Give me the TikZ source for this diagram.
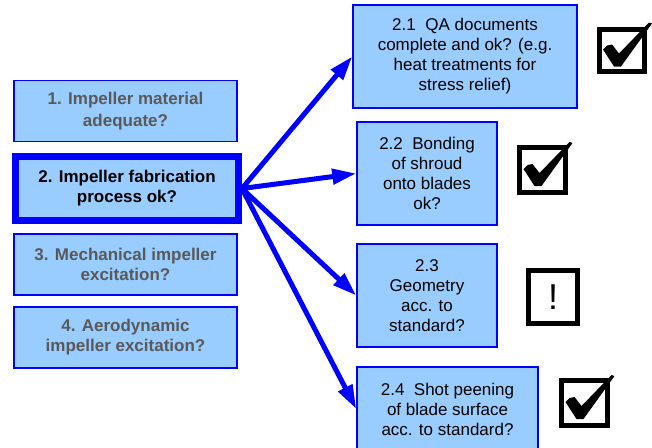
\documentclass[tikz,border=0pt]{standalone}
\usepackage{fontspec}
\setmainfont{Liberation Sans}
\usetikzlibrary{arrows.meta}
\definecolor{boxfill}{RGB}{153,204,255}
\definecolor{boxline}{RGB}{0,0,255}
\definecolor{dimtext}{RGB}{89,89,89}

\tikzset{
  mainbox/.style={draw=boxline,fill=boxfill,line width=1.5pt,inner sep=0pt,align=center,
    font=\fontsize{17}{20}\selectfont\bfseries,text=dimtext,minimum width=223pt,minimum height=61pt},
  subbox/.style={draw=boxline,fill=boxfill,line width=1.5pt,inner sep=0pt,align=center,
    font=\fontsize{17}{20}\selectfont,minimum width=140pt,minimum height=103pt},
  markbox/.style={draw=black,line width=5pt,inner sep=0pt,minimum width=46pt,minimum height=45pt},
  link/.style={draw=boxline,line width=5pt,-{Triangle[length=24pt,width=15pt]}}
}
% tick drawn over a mark box
\newcommand{\tickin}[1]{\fill[shift={(#1.center)}] (-19,-1) -- (-15,-5) -- (-10,-6) -- (-3,3)
  -- (27,-28) -- (30,-27) -- (-1,16) -- (-8,16) -- cycle;}

\begin{document}
\begin{tikzpicture}[x=1pt,y=-1pt]
    \useasboundingbox (0,0) rectangle (652,447);

    % questions on the left
    \node[mainbox,font=\fontsize{17}{22}\selectfont\bfseries] (b1) at (125.5,111) {1. Impeller material\\adequate?};
    \node[mainbox,line width=7pt,text=black,minimum width=223pt,minimum height=64pt] (b2) at (127,188.5) {2. Impeller fabrication\\process ok?};
    \node[mainbox] (b3) at (125.5,264.5) {3. Mechanical impeller\\excitation?};
    \node[mainbox] (b4) at (125.5,337.5) {4. Aerodynamic\\impeller excitation?};

    % sub questions
    \node[subbox,minimum width=224pt] (r1) at (465,56.5) {2.1~~QA documents\\complete and ok? (e.g.\\heat treatments for\\stress relief)};
    \node[subbox] (r2) at (427,173.5) {2.2~~Bonding\\of shroud\\onto blades\\ok?};
    \node[subbox] (r3) at (427,295.5) {2.3\\Geometry\\acc. to\\standard?};
    \node[subbox,minimum width=181pt,minimum height=84pt] (r4) at (447.5,409) {2.4~~Shot peening\\of blade surface\\acc. to standard?};

    \draw[link] (b2.east) -- (r1.west);
    \draw[link] (b2.east) -- (r2.west);
    \draw[link] (b2.east) -- (r3.west);
    \draw[link] (b2.east) -- (r4.west);

    % status marks
    \node[markbox,minimum width=45pt,minimum height=42pt] (c1) at (622,50.5) {};
    \node[markbox] (c2) at (542.5,170) {};
    \node[markbox,minimum width=49pt,minimum height=53pt] (c3) at (553,297) {\fontsize{36}{36}\selectfont !};
    \node[markbox] (c4) at (584.5,403) {};
    \tickin{c1}
    \tickin{c2}
    \tickin{c4}
\end{tikzpicture}
\end{document}
